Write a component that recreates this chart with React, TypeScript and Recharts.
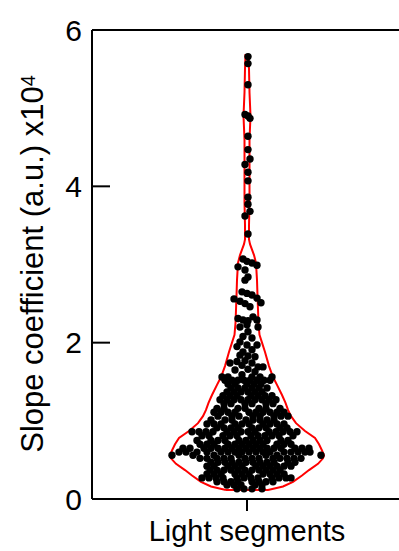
import { ComposedChart, Scatter, XAxis, YAxis, ReferenceLine } from 'recharts';

const category = 'Light segments';
const yTicks = [0, 2, 4, 6];

// violin outline: level (x10^4) and half width (jitter units)
const outlineLevels = [
  0.115, 0.16, 0.22, 0.3, 0.37, 0.45, 0.52, 0.56, 0.62, 0.7, 0.78, 0.87, 0.97, 1.06, 1.14, 1.23, 1.33,
  1.46, 1.56, 1.7, 1.88, 2.0, 2.1, 2.25, 2.42, 2.6, 2.8, 3.02, 3.12, 3.19, 3.26, 3.32, 3.5, 3.8, 4.2,
  4.6, 4.9, 5.2, 5.5, 5.68,
];
const outlineHalfWidths = [
  21, 36, 46, 55, 62, 71, 76, 77, 75, 72, 68, 58, 49, 44, 41, 38.5, 35, 30, 26, 22, 18, 15, 12.5, 11.5,
  11, 10.5, 10, 9, 7, 5, 3, 2, 2, 2.5, 2.5, 2.5, 3.5, 2.5, 2, 1.5,
];

// individual segments: slope value and horizontal jitter of each dot
const dotRows: [number, number[]][] = [
  [5.66, [1]], [5.57, [1]], [5.3, [1]], [4.92, [-2]], [4.9, [1]], [4.87, [3]], [4.64, [1]],
  [4.47, [1]], [4.35, [3]], [4.28, [-2]], [4.18, [1]], [4.07, [1]], [3.86, [1]], [3.77, [1]],
  [3.68, [3]], [3.62, [-2]], [3.39, [1]],
  [3.07, [-4]], [3.04, [0]], [3.02, [5]], [2.99, [10]], [2.97, [-9]], [2.93, [-2]], [2.84, [1]],
  [2.8, [-2]], [2.65, [-5]], [2.63, [0]], [2.61, [5]], [2.57, [10]], [2.56, [-13]], [2.53, [-7]],
  [2.51, [14]], [2.5, [-2]], [2.46, [3]],
  [2.33, [6]], [2.31, [-9]], [2.29, [-4, 10]], [2.28, [1]], [2.23, [0]], [2.2, [-7, 11]],
  [2.14, [1]], [2.08, [-4]], [2.06, [5]], [2.01, [-7]], [1.97, [0, 10]], [1.95, [-10]], [1.91, [5]],
  [1.88, [-4]], [1.84, [-7]], [1.83, [1]], [1.82, [8]], [1.77, [-2]], [1.76, [-10]], [1.74, [-17, 5]],
  [1.71, [-5]], [1.69, [11, 16]], [1.66, [1]], [1.65, [-12]], [1.63, [8]], [1.59, [-5]],
  [1.56, [-25, -19, 5, 13, 25]],
  [1.52, [-22, -15, -9, -3, 3, 10, 17, 23]],
  [1.47, [-19, -12, 0, 7, 14]],
  [1.42, [-16, -9, -2, 5, 12, 20]],
  [1.37, [-20, -13, -6, 1, 8, 15]],
  [1.32, [-24, -17, -10, 4, 11, 18, 25]],
  [1.27, [-27, -20, -13, -6, 1, 8, 15, 22, 29]],
  [1.22, [-23, -16, -2, 5, 19, 26]],
  [1.16, [-30, -23, -9, -2, 12, 19, 33]],
  [1.11, [-33, -26, -19, -12, 2, 9, 16, 23, 30, 37]],
  [1.06, [-29, -15, -8, 6, 13, 27, 34, 41]],
  [1.01, [-36, -22, -15, -1, 6, 13, 20, 27]],
  [0.96, [-40, -33, -26, -12, -5, 2, 16, 23, 30, 37]],
  [0.91, [-30, -23, -16, -9, 5, 12, 19, 33, 40]],
  [0.86, [-55, -48, -41, -34, -20, -13, -6, 1, 8, 22, 29, 36, 43, 50]],
  [0.81, [-45, -38, -24, -17, -10, 4, 11, 18, 25, 32, 46]],
  [0.75, [-50, -36, -29, -22, -8, -1, 6, 13, 20, 34, 41]],
  [0.7, [-47, -40, -33, -19, -12, -5, 2, 9, 16, 30, 37, 44]],
  [0.65, [-64, -57, -43, -36, -29, -22, -15, -8, -1, 6, 13, 20, 27, 34, 48, 55, 62]],
  [0.6, [-68, -61, -50, -40, -26, -19, -12, -5, 2, 9, 16, 23, 37, 44, 51, 58, 63]],
  [0.56, [-75, -54, -33, -8, 19, 30, 74]],
  [0.52, [-47, -40, -30, -23, -16, -2, 5, 12, 26, 33, 40, 47, 54]],
  [0.47, [-36, -29, -22, -15, -8, -1, 6, 13, 20, 27, 41, 48]],
  [0.42, [-40, -33, -19, -12, -5, 9, 16, 23, 30, 37, 44]],
  [0.37, [-37, -30, -23, -16, -9, -2, 5, 12, 19, 26, 33]],
  [0.32, [-40, -33, -26, -12, -5, 2, 16, 23, 30, 37]],
  [0.27, [-45, -38, -31, -24, -10, -3, 4, 11, 25, 32, 39, 44]],
  [0.22, [-30, -23, -16, -9, 5, 12, 19, 26]],
  [0.18, [-20, -13, -6, 8, 15]],
  [0.13, [-10, -3, 5, 15]],
];

const FONT = '"Liberation Sans", Arial, Helvetica, sans-serif';

// closed polygon: left side bottom -> top, right side top -> bottom
const outline = [
  ...outlineLevels.map((y, i) => ({ x: -outlineHalfWidths[i], y })),
  ...outlineLevels.map((y, i) => ({ x: outlineHalfWidths[i], y })).reverse(),
];
outline.push(outline[0]);

const dots = dotRows.flatMap(([y, xs]) => xs.map((x) => ({ x, y })));

const Dot = (p: any) => <circle cx={p.cx} cy={p.cy} r={3.7} fill="#000" />;
const NoMark = () => <g />;

const YLabel = () => (
  <text
    x={0}
    y={0}
    transform="translate(43 264) rotate(-90)"
    textAnchor="middle"
    fontSize={31}
    fontFamily={FONT}
    fill="#000"
  >
    Slope coefficient (a.u.) x10
    <tspan fontSize={20} dy={-8}>
      4
    </tspan>
  </text>
);

export default function App() {
  return (
    <div
      style={{
        position: 'absolute',
        left: 0,
        top: 0,
        width: 399,
        height: 551,
        overflow: 'hidden',
        background: '#fff',
      }}
    >
      <ComposedChart width={402} height={551} margin={{ top: 30, right: 0, bottom: 0, left: 0 }}>
        <XAxis
          type="number"
          dataKey="x"
          domain={[-155, 155]}
          ticks={[0]}
          tickFormatter={() => category}
          height={52}
          tickSize={12}
          tickMargin={9}
          axisLine={{ stroke: '#000', strokeWidth: 2 }}
          tickLine={{ stroke: '#000', strokeWidth: 2 }}
          tick={{ fill: '#000', fontSize: 29, fontFamily: FONT }}
        />
        <YAxis
          type="number"
          dataKey="y"
          domain={[0, 6]}
          ticks={yTicks}
          width={92}
          tickSize={-18}
          tickMargin={28}
          axisLine={{ stroke: '#000', strokeWidth: 2 }}
          tickLine={{ stroke: '#000', strokeWidth: 2 }}
          tick={{ fill: '#000', fontSize: 30, fontFamily: FONT }}
          label={<YLabel />}
        />
        <ReferenceLine y={6} stroke="#000" strokeWidth={2} />
        <ReferenceLine x={155} stroke="#000" strokeWidth={2} />
        <Scatter
          data={outline}
          line={{ stroke: '#ff0000', strokeWidth: 2 }}
          lineType="joint"
          shape={NoMark}
          isAnimationActive={false}
        />
        <Scatter data={dots} shape={Dot} isAnimationActive={false} />
      </ComposedChart>
    </div>
  );
}
